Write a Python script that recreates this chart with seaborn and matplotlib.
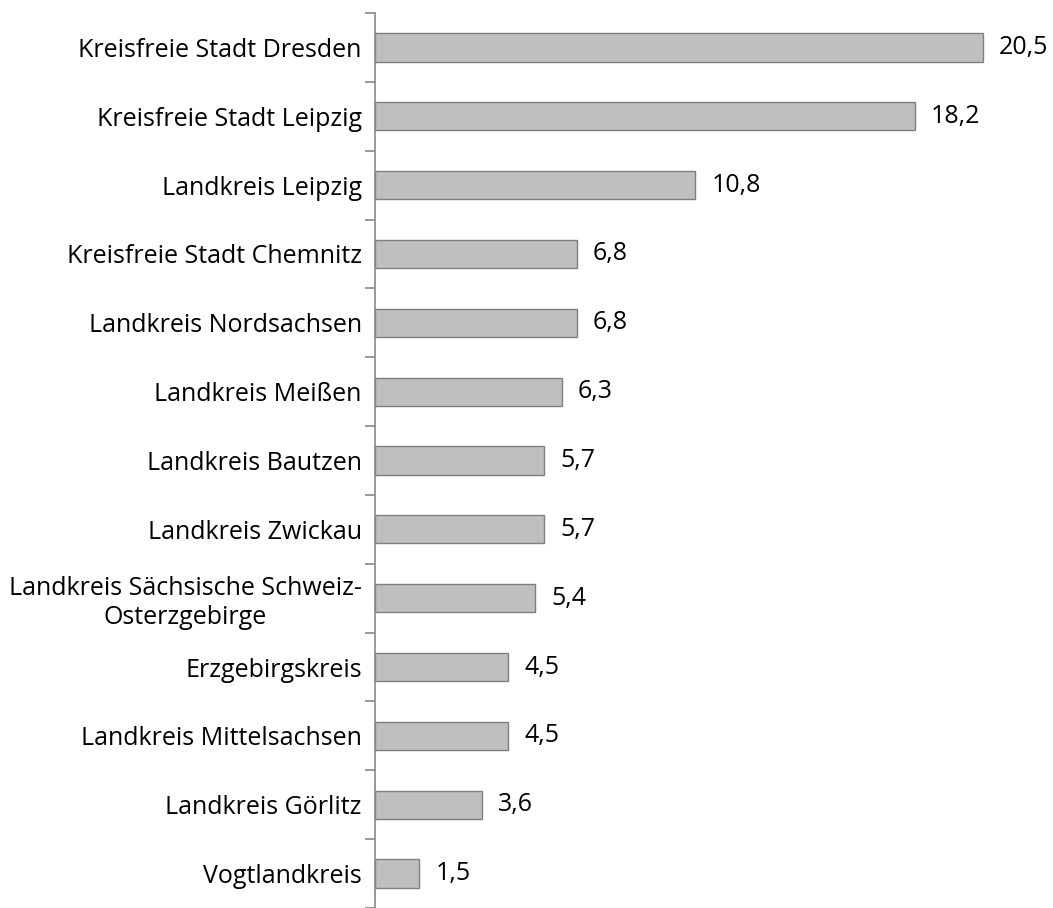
import matplotlib
matplotlib.use("Agg")
import matplotlib.pyplot as plt
import pandas as pd
import seaborn as sns

# data
regions = ["Kreisfreie Stadt Dresden", "Kreisfreie Stadt Leipzig", "Landkreis Leipzig",
           "Kreisfreie Stadt Chemnitz", "Landkreis Nordsachsen", "Landkreis Meißen",
           "Landkreis Bautzen", "Landkreis Zwickau",
           "Landkreis Sächsische Schweiz-\nOsterzgebirge", "Erzgebirgskreis",
           "Landkreis Mittelsachsen", "Landkreis Görlitz", "Vogtlandkreis"]
values = [20.5, 18.2, 10.8, 6.8, 6.8, 6.3, 5.7, 5.7, 5.4, 4.5, 4.5, 3.6, 1.5]

df = pd.DataFrame({"region": regions, "value": values})

sns.set_style("white")
plt.rcParams["font.family"] = ["Open Sans", "DejaVu Sans"]

fig = plt.figure(figsize=(10.53, 9.08), dpi=100)
ax = fig.add_axes([375 / 1053, 0.0, 665 / 1053, 895 / 908])

sns.barplot(data=df, y="region", x="value", orient="h", color="#bfbfbf",
            saturation=1, width=0.41, edgecolor="#7f7f7f", linewidth=1, ax=ax)

ax.set_xlim(0, 22.42)
ax.set_ylim(12.5, -0.5)
ax.set_xlabel("")
ax.set_ylabel("")
ax.set_xticks([])

# labels in the middle of each slot, ticks on the slot borders
ax.set_yticks(range(len(regions)))
ax.set_yticklabels(regions, fontsize=18, color="black")
ax.set_yticks([i - 0.5 for i in range(len(regions) + 1)], minor=True)
ax.tick_params(axis="y", which="major", length=0, pad=9.5)
ax.tick_params(axis="y", which="minor", length=7, width=1.2, color="#888888", left=True)
for lbl in ax.get_yticklabels():
    lbl.set_multialignment("center")

for s in ["top", "right", "bottom"]:
    ax.spines[s].set_visible(False)
ax.spines["left"].set_color("#888888")
ax.spines["left"].set_linewidth(1.2)

ax.bar_label(ax.containers[0], labels=[f"{v:.1f}".replace(".", ",") for v in values],
             padding=11.5, fontsize=18, color="black")

fig.savefig("out.png", dpi=100)
